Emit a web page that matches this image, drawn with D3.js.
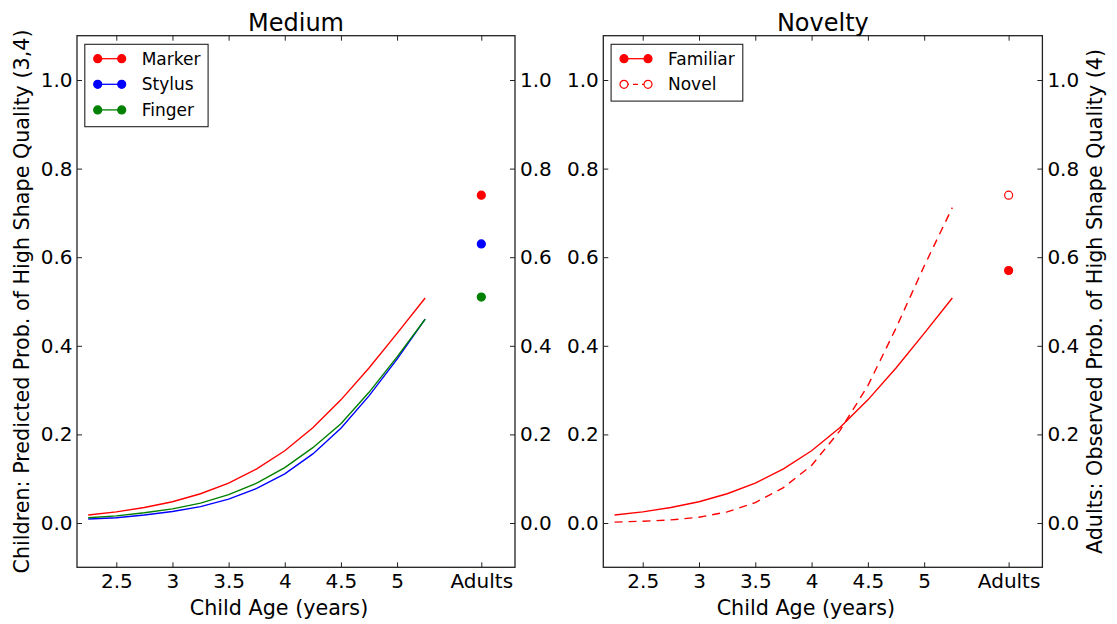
<!DOCTYPE html>
<html>
<head>
<meta charset="utf-8">
<script src="https://cdn.jsdelivr.net/npm/d3@7"></script>
<style>
	body { margin: 0; background: #fff; }
	svg text { font-family: "DejaVu Sans", sans-serif; fill: #000; }
</style>
</head>
<body>
<div id="chart"></div>
<script>
// ages at which the child curves were evaluated
var ages = [2.25, 2.5, 2.75, 3.0, 3.25, 3.5, 3.75, 4.0, 4.25, 4.5, 4.75, 5.0, 5.25];

// Medium panel
var markerProb = [0.018, 0.025, 0.035, 0.048, 0.066, 0.090, 0.122, 0.163, 0.215, 0.278, 0.350, 0.428, 0.508];
var stylusProb = [0.009, 0.012, 0.018, 0.026, 0.037, 0.054, 0.078, 0.111, 0.156, 0.214, 0.287, 0.370, 0.460];
var fingerProb = [0.012, 0.016, 0.023, 0.032, 0.045, 0.064, 0.090, 0.125, 0.170, 0.224, 0.295, 0.375, 0.460];
var mediumNames = ["Marker", "Stylus", "Finger"];
var mediumAdults = [0.74, 0.63, 0.51];

// Novelty panel
var familiarProb = [0.018, 0.025, 0.035, 0.048, 0.066, 0.090, 0.122, 0.163, 0.215, 0.278, 0.350, 0.428, 0.508];
var novelProb = [0.002, 0.004, 0.007, 0.013, 0.025, 0.046, 0.080, 0.130, 0.208, 0.310, 0.440, 0.580, 0.712];
var noveltyNames = ["Familiar", "Novel"];
var noveltyAdults = [0.57, 0.74];

// axes
var xTicks = [2.5, 3, 3.5, 4, 4.5, 5];
var xTickLabels = ["2.5", "3", "3.5", "4", "4.5", "5"];
var adultsPos = 5.75;
var xDomain = [2.15, 6.05];
var yTicks = [0.0, 0.2, 0.4, 0.6, 0.8, 1.0];
var yDomain = [-0.1, 1.1];

var W = 1117, H = 624;
var top_ = 35.7, bottom_ = 567.3;

var svg = d3.select("#chart").append("svg")
	.attr("width", W)
	.attr("height", H);

svg.append("rect").attr("width", W).attr("height", H).attr("fill", "#fff");

var y = d3.scaleLinear().domain(yDomain).range([bottom_, top_]);

function drawPanel(opt) {
	var x = d3.scaleLinear().domain(xDomain).range([opt.left, opt.right]);
	var g = svg.append("g");
	var allTicks = xTicks.concat([adultsPos]);
	var labels = xTickLabels.concat(["Adults"]);

	// axes, ticks pointing inward
	g.append("g").attr("transform", "translate(0," + bottom_ + ")")
		.call(d3.axisBottom(x).tickValues(allTicks)
			.tickFormat(function(d, i) { return labels[i]; })
			.tickSizeInner(-5).tickSizeOuter(0).tickPadding(7));
	g.append("g").attr("transform", "translate(0," + top_ + ")")
		.call(d3.axisTop(x).tickValues(allTicks).tickFormat("")
			.tickSizeInner(-5).tickSizeOuter(0));
	g.append("g").attr("transform", "translate(" + opt.left + ",0)")
		.call(d3.axisLeft(y).tickValues(yTicks).tickFormat(d3.format(".1f"))
			.tickSizeInner(-5).tickSizeOuter(0).tickPadding(4.5));
	g.append("g").attr("transform", "translate(" + opt.right + ",0)")
		.call(d3.axisRight(y).tickValues(yTicks).tickFormat(d3.format(".1f"))
			.tickSizeInner(-5).tickSizeOuter(0).tickPadding(5));

	g.selectAll(".domain").remove();
	g.selectAll(".tick line").attr("stroke", "#222").attr("stroke-width", 1);
	g.selectAll(".tick text")
		.style("font-family", "DejaVu Sans, sans-serif")
		.style("font-size", "20px")
		.attr("fill", "#000");

	// frame
	g.append("rect")
		.attr("x", opt.left).attr("y", top_)
		.attr("width", opt.right - opt.left).attr("height", bottom_ - top_)
		.attr("fill", "none").attr("stroke", "#222").attr("stroke-width", 1.3);

	var line = d3.line()
		.x(function(d, i) { return x(ages[i]); })
		.y(function(d) { return y(d); });

	opt.series.forEach(function(s) {
		g.append("path")
			.attr("d", line(s.values))
			.attr("fill", "none")
			.attr("stroke", s.color)
			.attr("stroke-width", 1.4)
			.attr("stroke-dasharray", s.dash || null);
		g.append("circle")
			.attr("cx", x(adultsPos)).attr("cy", y(s.adult))
			.attr("r", 4)
			.attr("fill", s.open ? "#fff" : s.color)
			.attr("stroke", s.color)
			.attr("stroke-width", 1.2);
	});

	// title and x label
	var cx = (opt.left + opt.right) / 2;
	g.append("text").attr("x", cx).attr("y", 30.5)
		.attr("text-anchor", "middle").style("font-size", "24px")
		.text(opt.title);
	g.append("text").attr("x", cx - 17).attr("y", 614.5)
		.attr("text-anchor", "middle").style("font-size", "20.7px")
		.text("Child Age (years)");

	// legend
	var lg = g.append("g");
	lg.append("rect")
		.attr("x", opt.left + 7.8).attr("y", 44.3)
		.attr("width", opt.legendW).attr("height", 25.6 * opt.series.length + 5.6)
		.attr("fill", "#fff").attr("stroke", "#222").attr("stroke-width", 1.1);
	var item = lg.selectAll(".item").data(opt.series).enter().append("g")
		.attr("transform", function(d, i) { return "translate(" + (opt.left + 20.7) + "," + (58.7 + i * 25.6) + ")"; });
	item.append("line")
		.attr("x1", 0).attr("x2", 24)
		.attr("stroke", function(d) { return d.color; })
		.attr("stroke-width", 1.3)
		.attr("stroke-dasharray", function(d) { return d.dash ? "5,4" : null; });
	[0, 24].forEach(function(px) {
		item.append("circle")
			.attr("cx", px).attr("r", 4)
			.attr("fill", function(d) { return d.open ? "#fff" : d.color; })
			.attr("stroke", function(d) { return d.color; })
			.attr("stroke-width", 1.2);
	});
	item.append("text")
		.attr("x", 44).attr("y", 6)
		.style("font-size", "17px")
		.text(function(d) { return d.name; });
}

drawPanel({
	title: "Medium", left: 77, right: 515, legendW: 123.3,
	series: [
		{ name: mediumNames[0], values: markerProb, adult: mediumAdults[0], color: "#ff0000" },
		{ name: mediumNames[1], values: stylusProb, adult: mediumAdults[1], color: "#0000ff" },
		{ name: mediumNames[2], values: fingerProb, adult: mediumAdults[2], color: "#008000" }
	]
});

drawPanel({
	title: "Novelty", left: 603.3, right: 1042.4, legendW: 131.7,
	series: [
		{ name: noveltyNames[0], values: familiarProb, adult: noveltyAdults[0], color: "#ff0000" },
		{ name: noveltyNames[1], values: novelProb, adult: noveltyAdults[1], color: "#ff0000", dash: "8,6", open: true }
	]
});

// y axis labels
svg.append("text")
	.attr("transform", "translate(29," + ((top_ + bottom_) / 2) + ") rotate(-90)")
	.attr("text-anchor", "middle").style("font-size", "20.7px")
	.text("Children: Predicted Prob. of High Shape Quality (3,4)");
svg.append("text")
	.attr("transform", "translate(1102," + ((top_ + bottom_) / 2) + ") rotate(-90)")
	.attr("text-anchor", "middle").style("font-size", "20.7px")
	.text("Adults: Observed Prob. of High Shape Quality (4)");
</script>
</body>
</html>
